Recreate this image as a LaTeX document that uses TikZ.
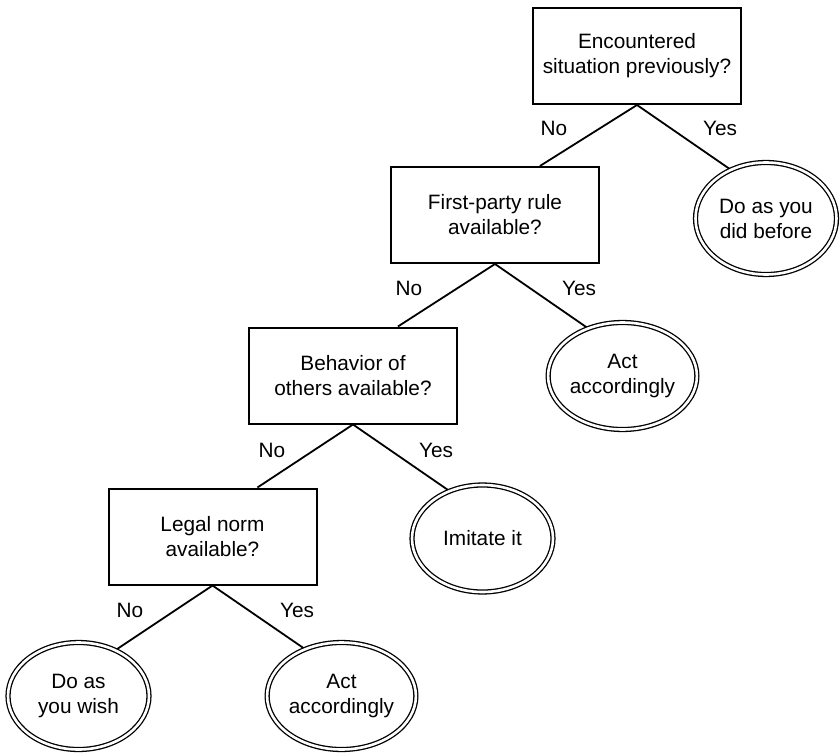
\documentclass[tikz,border=0pt]{standalone}
\usepackage{fontspec}
\setmainfont{Liberation Sans}
\usetikzlibrary{shapes.geometric,calc,backgrounds}
\newcommand{\dfont}{\fontsize{20.8pt}{25pt}\selectfont}
\begin{document}
\begin{tikzpicture}[x=1pt,y=1pt,
  qbox/.style={draw, line width=2pt, minimum width=208pt, minimum height=96pt, inner sep=0pt, align=center, font=\dfont},
  outc/.style={ellipse, draw, double, line width=1.3pt, double distance=2.6pt, minimum width=141pt, minimum height=107pt, inner sep=0pt, align=center, font=\dfont},
  conn/.style={line width=1.8pt},
  lab/.style={font=\dfont, inner sep=0pt}]
\useasboundingbox (0,0) rectangle (840,-754);

% questions
\node[qbox] (b1) at (637,-56) {Encountered\\situation previously?};
\node[qbox] (b2) at (495,-215) {First-party rule\\available?};
\node[qbox] (b3) at (353,-375.5) {Behavior of\\others available?};
\node[qbox] (b4) at (212.5,-536.5) {Legal norm\\available?};

% outcomes
\node[outc, minimum height=112pt] (e1) at (766,-218.5) {Do as you\\did before};
\node[outc] (e2) at (622.5,-376) {Act\\accordingly};
\node[outc] (e3) at (482.5,-538.5) {Imitate it};
\node[outc] (e4) at (78.5,-696) {Do as\\you wish};
\node[outc] (e5) at (341.5,-696) {Act\\accordingly};

% labels
\node[lab] (n1) at (554,-128) {No};
\node[lab] (y1) at (720,-128) {Yes};
\node[lab] (n2) at (409,-288) {No};
\node[lab] (y2) at (579,-288) {Yes};
\node[lab] (n3) at (272,-450) {No};
\node[lab] (y3) at (436,-450) {Yes};
\node[lab] (n4) at (130,-610) {No};
\node[lab] (y4) at (297,-610) {Yes};

\begin{scope}[on background layer]
\draw[conn] (b1.south) -- ($(b2.north west)!0.714!(b2.north east)$);
\draw[conn] (b1.south) -- (e1.126);
\draw[conn] (b2.south) -- ($(b3.north west)!0.714!(b3.north east)$);
\draw[conn] (b2.south) -- (e2.126);
\draw[conn] (b3.south) -- ($(b4.north west)!0.714!(b4.north east)$);
\draw[conn] (b3.south) -- (e3.125);
\draw[conn] (b4.south) -- (e4.51);
\draw[conn] (b4.south) -- (e5.128);
\end{scope}
\end{tikzpicture}
\end{document}
